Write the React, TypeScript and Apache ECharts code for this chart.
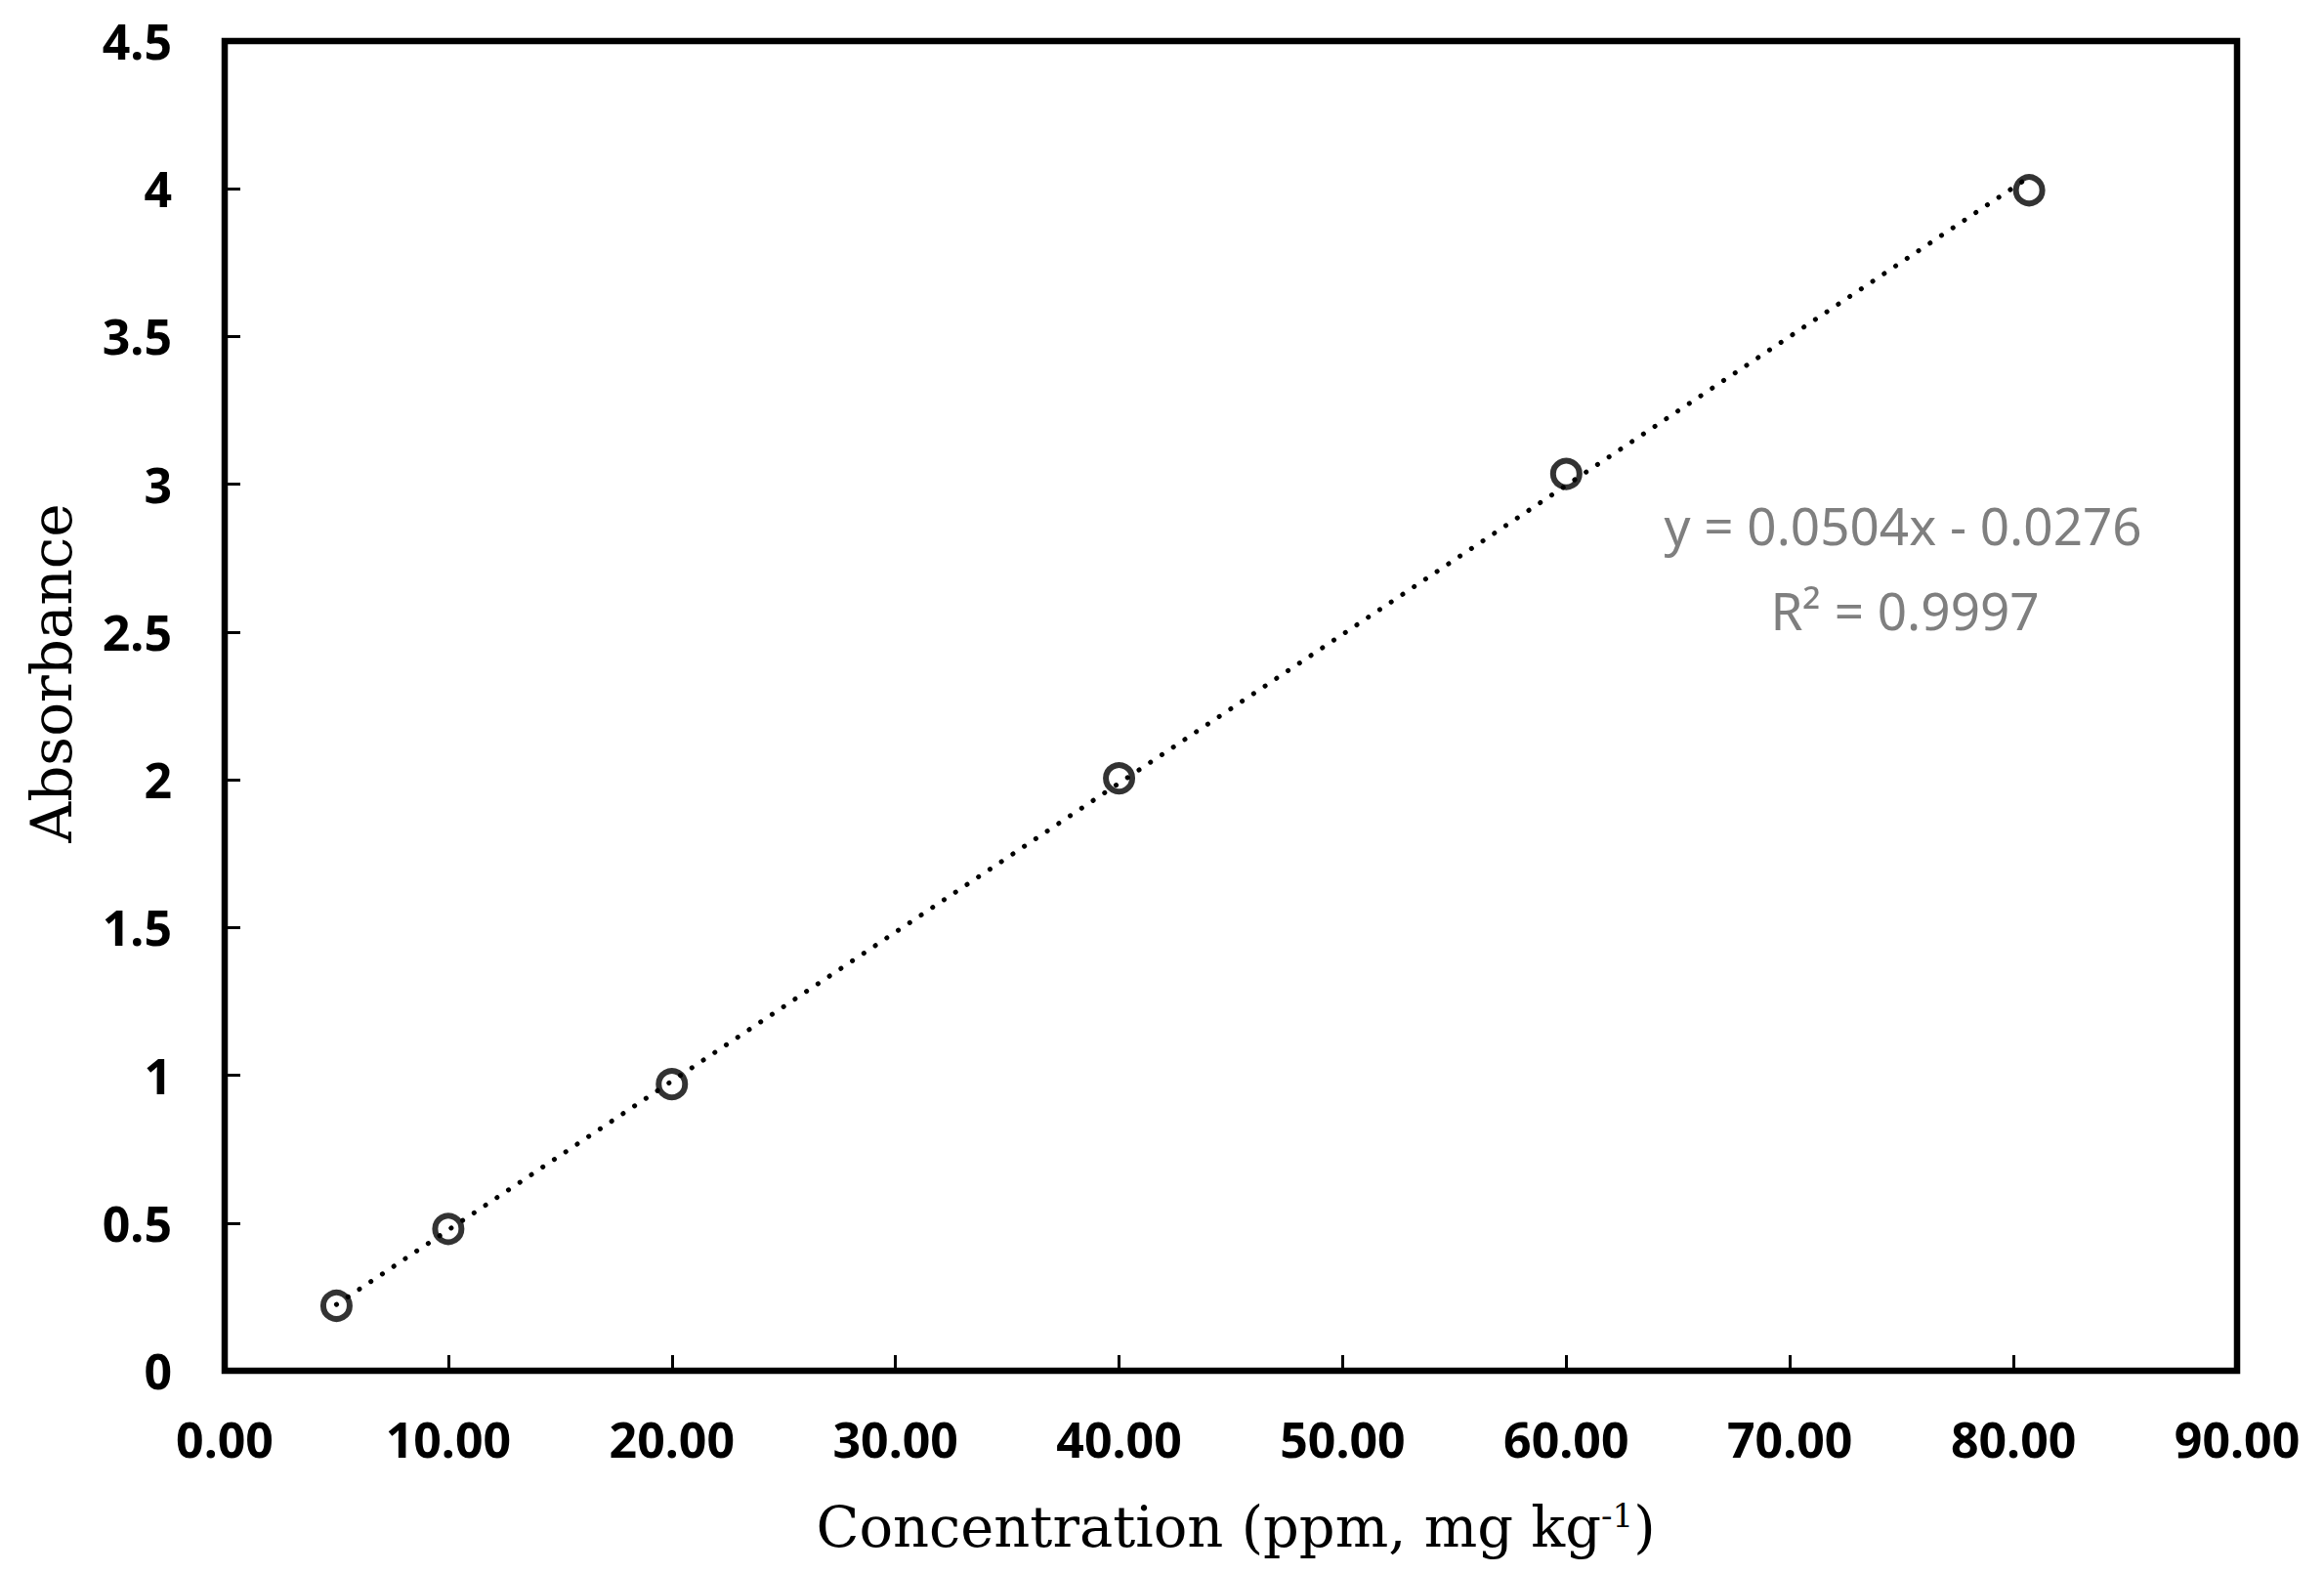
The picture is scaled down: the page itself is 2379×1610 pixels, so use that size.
import React, { useEffect, useRef } from "react";
import * as echarts from "echarts";

const concentration = [5, 10, 20, 40, 60, 80.7];
const absorbance = [0.22, 0.48, 0.97, 2.005, 3.035, 3.995];
const slope = 0.0504;
const intercept = -0.0276;
const rSquared = 0.9997;
const trendRange = [5, 80.7];
const xTickValues = [0, 10, 20, 30, 40, 50, 60, 70, 80, 90];
const yTickValues = [0, 0.5, 1, 1.5, 2, 2.5, 3, 3.5, 4, 4.5];

const W = 2379;
const H = 1610;

export default function App() {
  const ref = useRef<HTMLDivElement>(null);
  useEffect(() => {
    document.body.style.margin = "0";
    document.body.style.overflow = "hidden";
    const chart = echarts.init(ref.current!, null, { renderer: "svg" });
    const scatterData = concentration.map((x, i) => [x, absorbance[i]]);
    const trendData = trendRange.map((x) => [x, slope * x + intercept]);
    const tickFont = { fontFamily: "Noto Sans", fontWeight: "bold" as const, fontSize: 50, color: "#000" };
    const eqText =
      "y = " + slope.toFixed(4) + "x " + (intercept < 0 ? "-" : "+") + " " + Math.abs(intercept).toFixed(4);
    chart.setOption({
      animation: false,
      backgroundColor: "#fff",
      grid: {
        left: 230,
        right: W - 2290,
        top: 42,
        bottom: H - 1403,
        show: true,
        borderColor: "#000",
        borderWidth: 6.5,
        backgroundColor: "transparent",
      },
      xAxis: {
        type: "value",
        min: xTickValues[0],
        max: xTickValues[xTickValues.length - 1],
        interval: 10,
        axisLine: { show: false },
        axisTick: { show: true, inside: true, length: 16, lineStyle: { color: "#000", width: 3 } },
        splitLine: { show: false },
        axisLabel: { ...tickFont, margin: 45, formatter: (v: number) => v.toFixed(2) },
      },
      yAxis: {
        type: "value",
        min: yTickValues[0],
        max: yTickValues[yTickValues.length - 1],
        interval: 0.5,
        axisLine: { show: false },
        axisTick: { show: true, inside: true, length: 16, lineStyle: { color: "#000", width: 3 } },
        splitLine: { show: false },
        axisLabel: { ...tickFont, margin: 54, formatter: (v: number) => String(v) },
      },
      series: [
        {
          type: "line",
          data: trendData,
          symbol: "none",
          lineStyle: { color: "#000", width: 5, type: [0.1, 14], cap: "round" },
          z: 2,
        },
        {
          type: "scatter",
          data: scatterData,
          symbol: "circle",
          symbolSize: 27,
          itemStyle: { color: "transparent", borderColor: "#000", borderWidth: 6 },
          z: 3,
        },
      ],
      graphic: [
        {
          type: "text",
          x: 1948,
          y: 537,
          style: {
            text: eqText,
            fontFamily: "Noto Sans",
            fontSize: 53,
            fill: "#7f7f7f",
            textAlign: "center",
            textVerticalAlign: "middle",
          },
        },
        {
          type: "text",
          x: 1950,
          y: 624,
          style: {
            text: "R² = " + rSquared.toFixed(4),
            fontFamily: "Noto Sans",
            fontSize: 53,
            fill: "#7f7f7f",
            textAlign: "center",
            textVerticalAlign: "middle",
          },
        },
        {
          type: "text",
          x: 53,
          y: 689,
          rotation: Math.PI / 2,
          style: {
            text: "Absorbance",
            fontFamily: "DejaVu Serif",
            fontSize: 58,
            fill: "#000",
            textAlign: "center",
            textVerticalAlign: "middle",
          },
        },
        {
          type: "text",
          x: 1265,
          y: 1563,
          style: {
            text: "{a|Concentration (ppm, mg kg}{s|-1}{a|)}",
            textAlign: "center",
            textVerticalAlign: "middle",
            rich: {
              a: { fontFamily: "DejaVu Serif", fontSize: 57.5, fill: "#000", color: "#000", verticalAlign: "bottom" },
              s: { fontFamily: "DejaVu Serif", fontSize: 34, fill: "#000", color: "#000", verticalAlign: "top" },
            },
          },
        },
      ],
    });
    return () => chart.dispose();
  }, []);
  return <div ref={ref} style={{ position: "absolute", left: 0, top: 0, width: W, height: H }} />;
}
